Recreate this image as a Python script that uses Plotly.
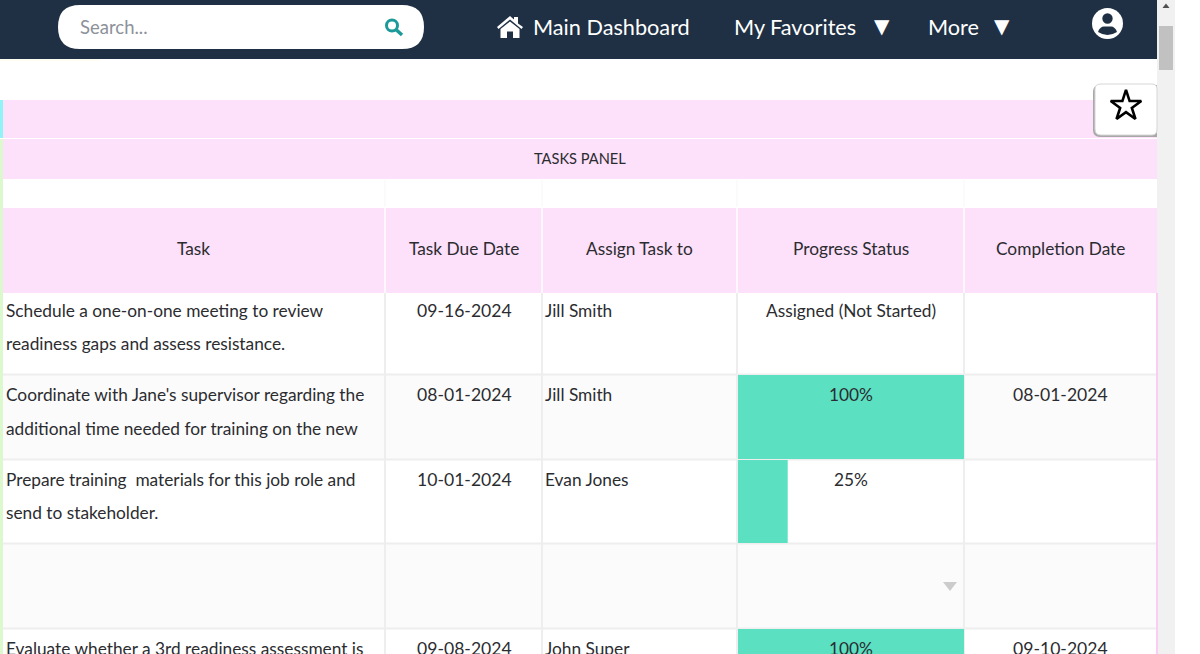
import plotly.graph_objects as go

# Table content
panel_title = "TASKS PANEL"
headers = ["Task", "Task Due Date", "Assign Task to", "Progress Status", "Completion Date"]
tasks = [
    ["Schedule a one-on-one meeting to review", "readiness gaps and assess resistance."],
    ["Coordinate with Jane's supervisor regarding the", "additional time needed for training on the new"],
    ["Prepare training  materials for this job role and", "send to stakeholder."],
    ["", ""],
    ["Evaluate whether a 3rd readiness assessment is", ""],
]
due_dates = ["09-16-2024", "08-01-2024", "10-01-2024", "", "09-08-2024"]
assignees = ["Jill Smith", "Jill Smith", "Evan Jones", "", "John Super"]
progress_labels = ["Assigned (Not Started)", "100%", "25%", "", "100%"]
progress_fill = [0, 100, 22, 0, 100]
completion_dates = ["", "08-01-2024", "", "", "09-10-2024"]

# Page geometry (pixels)
W, H = 1200, 654
col_edges = [3, 385, 542, 737, 964, 1157]
row_edges = [293, 375, 460, 544, 629, 714]
line1_y = [310, 394, 479, 563, 648]
line2_y = [343, 428, 512, 596, 681]

NAVY = "#1f3044"
PINK = "#fde0fa"
TEAL = "#5be0c2"
GRID = "#eeeeee"
TEXT = "#2b2c30"
FONT = "Lato"
BODY = 17.3

shapes = []
annotations = []


def rect(x0, y0, x1, y1, fill, line=None, lw=0):
    shapes.append(dict(type="rect", x0=x0, y0=y0, x1=x1, y1=y1, layer="below",
                       fillcolor=fill, line=dict(color=line, width=lw) if line else dict(width=0)))


def vline(x, y0, y1, color=GRID, lw=2):
    shapes.append(dict(type="line", x0=x, x1=x, y0=y0, y1=y1, layer="below",
                       line=dict(color=color, width=lw)))


def hline(x0, x1, y, color=GRID, lw=2):
    shapes.append(dict(type="line", x0=x0, x1=x1, y0=y, y1=y, layer="below",
                       line=dict(color=color, width=lw)))


def path(d, fill=None, line=None, lw=0):
    shapes.append(dict(type="path", path=d, layer="below", fillcolor=fill,
                       line=dict(color=line, width=lw) if line else dict(width=0)))


def circle(cx, cy, r, fill=None, line=None, lw=0):
    shapes.append(dict(type="circle", x0=cx - r, x1=cx + r, y0=cy - r, y1=cy + r, layer="below",
                       fillcolor=fill, line=dict(color=line, width=lw) if line else dict(width=0)))


def label(text, x, y, size=BODY, color=TEXT, anchor="center", family=FONT):
    annotations.append(dict(text=text, x=x, y=y, xref="x", yref="y", showarrow=False,
                            xanchor=anchor, yanchor="middle",
                            font=dict(family=family, size=size, color=color)))


# Navigation bar
rect(0, 0, 1157, 59, NAVY)
hline(0, 100, 60, color="#fdfbe4", lw=1)
path("M80,5 H402 Q424,5 424,27 Q424,49 402,49 H80 Q58,49 58,27 Q58,5 80,5 Z", fill="white")
label("Search...", 78, 27, size=18.5, color="#8d9199", anchor="left")
circle(392, 25.5, 5.5, line="#1c9a9a", lw=3)
shapes.append(dict(type="line", x0=396.5, y0=30, x1=402, y1=35, layer="below",
                   line=dict(color="#1c9a9a", width=3.5)))
path("M497,27 L510,16 L514,19.5 V17 H518 V23.5 L523,27 L521.5,29 L510,19.5 L498.5,29 Z", fill="white")
path("M500.5,29 L510,21.5 L519.5,29 V38 H513 V31.5 H507 V38 H500.5 Z", fill="white")
label("Main Dashboard", 531, 27, size=21.7, color="white", anchor="left")
label("My Favorites", 732, 27, size=21.7, color="white", anchor="left")
label("▼", 882, 26, size=20, color="white", family="DejaVu Sans")
label("More", 926, 27, size=21.7, color="white", anchor="left")
label("▼", 1002, 26, size=20, color="white", family="DejaVu Sans")
circle(1107.5, 23.5, 15.5, fill="white")
circle(1107.5, 18.5, 5.2, fill=NAVY)
path("M1098,32 Q1100,26.5 1104,26.5 H1111 Q1115,26.5 1117,32 Q1107.5,38 1098,32 Z", fill=NAVY)

# Scrollbar
rect(1157, 0, 1175, 654, "#f1f1f1")
rect(1159, 26, 1173, 70, "#c1c1c1")
path("M1162.5,8 L1166,3.5 L1169.5,8 Z", fill="#505050")

# Panel bands
rect(3, 100, 1157, 138, PINK)
rect(3, 139, 1157, 179, PINK)
rect(0, 100, 3, 138, "#8ff4f6")
rect(0, 139, 3, 654, "#dcf8cd")
rect(1156, 293, 1158, 654, "#fbcdf2")
label(panel_title, 580, 158.5, size=14.6)

# Empty spacer row and header row
for x in col_edges[1:-1]:
    vline(x, 180, 207, color="#f7f7f7", lw=1)
rect(3, 208, 1157, 293, PINK)
for x in col_edges[1:-1]:
    vline(x, 208, 293, color="white", lw=1.5)

# Body rows
for i in range(len(tasks)):
    rect(3, row_edges[i], 1156, row_edges[i + 1], "white" if i % 2 == 0 else "#fbfbfb")
for y in row_edges[1:-1]:
    hline(3, 1156, y - 0.5)
for x in col_edges[1:-1]:
    vline(x, 293, 654)

# Header text
col_centers = [193.5, 464, 639, 851, 1060.5]
for text, x in zip(headers, col_centers):
    label(text, x, 248)

# Cell text
for i in range(len(tasks)):
    label(tasks[i][0], 4, line1_y[i], anchor="left")
    label(tasks[i][1], 4, line2_y[i], anchor="left")
    label(due_dates[i], col_centers[1], line1_y[i], size=17.6)
    label(assignees[i], 543, line1_y[i], anchor="left")
    label(progress_labels[i], col_centers[3], line1_y[i])
    label(completion_dates[i], col_centers[4], line1_y[i], size=17.6)

# Dropdown arrow in the empty row
path("M943,582 H957 L950,591 Z", fill="#cccccc")

# Favourite button
path("M1100,85 H1157 V137 H1100 Q1093,137 1093,130 V92 Q1093,85 1100,85 Z", fill="#a8a8a8")
path("M1101,84 H1152 Q1157,84 1157,89 V129 Q1157,135 1152,135 H1101 Q1095,135 1095,129 V89 Q1095,84 1101,84 Z",
     fill="white", line="#d6d6d6", lw=1)

fig = go.Figure()

# Progress fills, one subplot axis spanning the Progress Status column
row_centers = [(row_edges[i] + row_edges[i + 1] - 1) / 2 for i in range(len(tasks))]
row_heights = [row_edges[i + 1] - row_edges[i] - 1 for i in range(len(tasks))]
fig.add_trace(go.Bar(x=progress_fill, y=row_centers, width=row_heights, orientation="h",
                     xaxis="x2", yaxis="y", marker=dict(color=TEAL, line=dict(width=0)),
                     hoverinfo="skip", showlegend=False))

# Star on the favourite button
fig.add_trace(go.Scatter(x=[1126], y=[106], mode="markers", hoverinfo="skip", showlegend=False,
                         marker=dict(symbol="star-open", size=23, color="black", line=dict(width=2.6, color="black"))))

fig.update_layout(
    width=W, height=H,
    margin=dict(l=0, r=0, t=0, b=0),
    paper_bgcolor="white", plot_bgcolor="rgba(0,0,0,0)",
    xaxis=dict(range=[0, W], visible=False, domain=[0, 1], fixedrange=True),
    xaxis2=dict(range=[0, 100], visible=False, domain=[738 / W, 964 / W], anchor="y", fixedrange=True),
    yaxis=dict(range=[H, 0], visible=False, fixedrange=True),
    shapes=shapes,
    annotations=annotations,
)

fig.write_html("out.html", config=dict(displayModeBar=False),
               post_script="document.body.style.margin='0';document.body.style.overflow='hidden';")
